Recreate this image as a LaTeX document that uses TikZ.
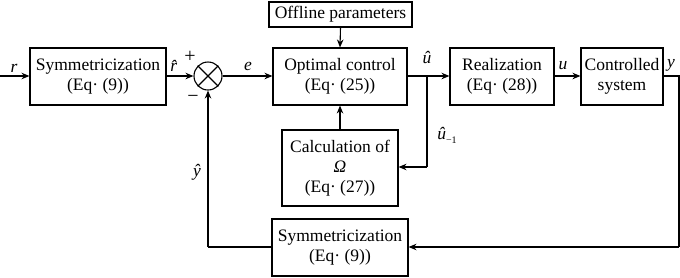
\documentclass[tikz,border=0pt]{standalone}
\usepackage{fontspec}
\setmainfont{Liberation Serif}
\usetikzlibrary{arrows.meta}
\begin{document}
\begin{tikzpicture}[x=1pt,y=-1pt,
  every node/.style={font=\fontsize{17.5}{20}\selectfont},
  blk/.style={draw,line width=1.1pt,rectangle,align=center,inner sep=0pt},
  lbl/.style={inner sep=0pt},
  conn/.style={line width=1.1pt},
  arr/.style={conn,-{Stealth[length=8pt,width=6.5pt]}}]
\useasboundingbox (0,0) rectangle (680,277);
\node[blk,minimum width=136pt,minimum height=57pt] (sym1) at (98,76.5) {Symmetricization\\(Eq· (9))};
\node[draw,circle,line width=1.1pt,minimum size=28pt,inner sep=0pt] (sum) at (208,76) {};
\draw[conn] (sum.north west) -- (sum.south east) (sum.north east) -- (sum.south west);
\node[blk,minimum width=134pt,minimum height=57pt] (opt) at (340,76.5) {Optimal control\\(Eq· (25))};
\node[blk,minimum width=143pt,minimum height=25pt] (off) at (340.5,14.5) {Offline parameters};
\node[blk,minimum width=104pt,minimum height=57pt] (real) at (502,76.5) {Realization\\(Eq· (28))};
\node[blk,minimum width=82pt,minimum height=57pt] (ctrl) at (622,76.5) {Controlled\\system};
\node[blk,minimum width=116pt,minimum height=76pt] (calc) at (340,168) {Calculation of\\\textit{Ω}\\(Eq· (27))};
\node[blk,minimum width=136pt,minimum height=57pt] (sym2) at (340,247.5) {Symmetricization\\(Eq· (9))};
\coordinate (in) at (0,76);
\coordinate (j) at (427,76);
\coordinate (j2) at (427,167);
\coordinate (o1) at (679,76);
\coordinate (o2) at (679,247);
\coordinate (f1) at (208,247);
\draw[arr] (in) -- (sym1.west |- in);
\draw[arr] (sym1.east |- sum) -- (sum.west);
\draw[arr] (sum.east) -- (opt.west |- sum);
\draw[arr] (off.south) -- (opt.north);
\draw[arr] (calc.north) -- (opt.south);
\draw[arr] (opt.east |- j) -- (real.west |- j);
\draw[conn] (j) -- (j2);
\draw[arr] (j2) -- (calc.east |- j2);
\draw[arr] (real.east |- j) -- (ctrl.west |- j);
\draw[conn] (ctrl.east |- o1) -- (o1) -- (o2);
\draw[arr] (o2) -- (sym2.east |- o2);
\draw[conn] (sym2.west |- f1) -- (f1);
\draw[arr] (f1) -- (sum.south);
\node[lbl] (lr) at (14,68) {\textit{r}};
\node[lbl] (lrh) at (177,66) {\textit{\^r}};
\node[lbl] (lp) at (190,57) {\fontsize{20}{20}\selectfont +};
\node[lbl] (lm) at (193,99) {\fontsize{20}{20}\selectfont −};
\node[lbl] (le) at (248,66) {\textit{e}};
\node[lbl] (luh) at (427,58) {\textit{\^u}};
\node[lbl] (lu) at (563,66) {\textit{u}};
\node[lbl] (ly) at (671,65) {\textit{y}};
\node[lbl] (lyh) at (197,172) {\textit{\^y}};
\node[lbl] (lu1) at (447,135) {\textit{\^u}\raisebox{-4pt}{\fontsize{10}{10}\selectfont −1}};
\end{tikzpicture}
\end{document}
